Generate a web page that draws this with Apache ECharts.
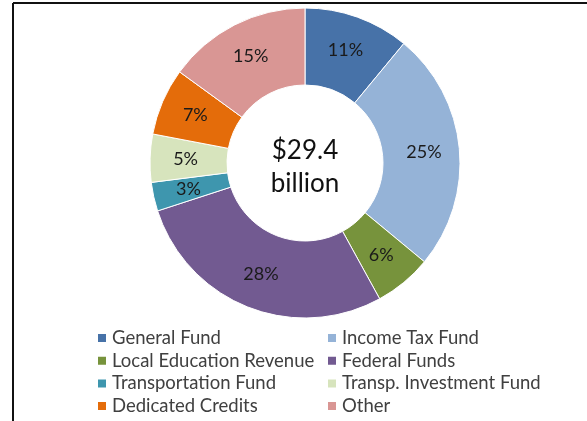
<!DOCTYPE html>
<html>
<head>
<meta charset="utf-8">
<script src="https://cdn.jsdelivr.net/npm/echarts@6/dist/echarts.min.js"></script>
<style>
  html, body { margin: 0; padding: 0; background: #fff; }
  #chart { width: 587px; height: 421px; }
</style>
</head>
<body>
<div id="chart"></div>
<script>
// Revenue sources, share of total (percent)
const categories = [
  'General Fund', 'Income Tax Fund', 'Local Education Revenue', 'Federal Funds',
  'Transportation Fund', 'Transp. Investment Fund', 'Dedicated Credits', 'Other'
];
const shares = [11, 25, 6, 28, 3, 5, 7, 15];
const colors = ['#4772A8', '#95B3D7', '#77933C', '#725A91', '#3E96AE', '#D7E4BD', '#E46C0A', '#D99694'];
const centerLines = ['$29.4', 'billion'];

// Legend columns (two side by side)
const legendLeft = [categories[0], categories[2], categories[4], categories[6]];
const legendRight = [categories[1], categories[3], categories[5], categories[7]];

const font = 'Lato, "Open Sans", sans-serif';

const chart = echarts.init(document.getElementById('chart'), null, { renderer: 'canvas' });

const legendBase = {
  orient: 'vertical',
  top: 328,
  height: 93,
  padding: 0,
  itemWidth: 10,
  itemHeight: 10,
  itemGap: 2.7,
  icon: 'rect',
  selectedMode: false,
  textStyle: { fontFamily: font, fontSize: 18.5, color: '#404040', lineHeight: 20 }
};

chart.setOption({
  animation: false,
  color: colors,
  graphic: [
    // frame lines along top and left
    { type: 'line', shape: { x1: 13, y1: 3, x2: 587, y2: 3 }, style: { stroke: '#111', lineWidth: 2 } },
    { type: 'line', shape: { x1: 13, y1: 3, x2: 13, y2: 421 }, style: { stroke: '#111', lineWidth: 2 } },
    {
      type: 'text',
      x: 305,
      y: 167,
      style: {
        text: centerLines.join('\n'),
        align: 'center', verticalAlign: 'middle',
        font: '26px ' + font, lineHeight: 33, fill: '#111'
      }
    }
  ],
  legend: [
    Object.assign({}, legendBase, { left: 96, data: legendLeft }),
    Object.assign({}, legendBase, { left: 326, data: legendRight })
  ],
  series: [{
    type: 'pie',
    center: [305, 163],
    radius: [78, 155],
    startAngle: 90,
    clockwise: true,
    avoidLabelOverlap: false,
    itemStyle: { borderColor: '#ffffff', borderWidth: 1 },
    label: {
      show: true,
      position: 'inside',
      formatter: '{d}%',
      fontFamily: font,
      fontSize: 18,
      color: '#1a1a1a'
    },
    labelLine: { show: false },
    emphasis: { disabled: true },
    data: categories.map((name, i) => ({ name: name, value: shares[i] }))
  }]
});
</script>
</body>
</html>
